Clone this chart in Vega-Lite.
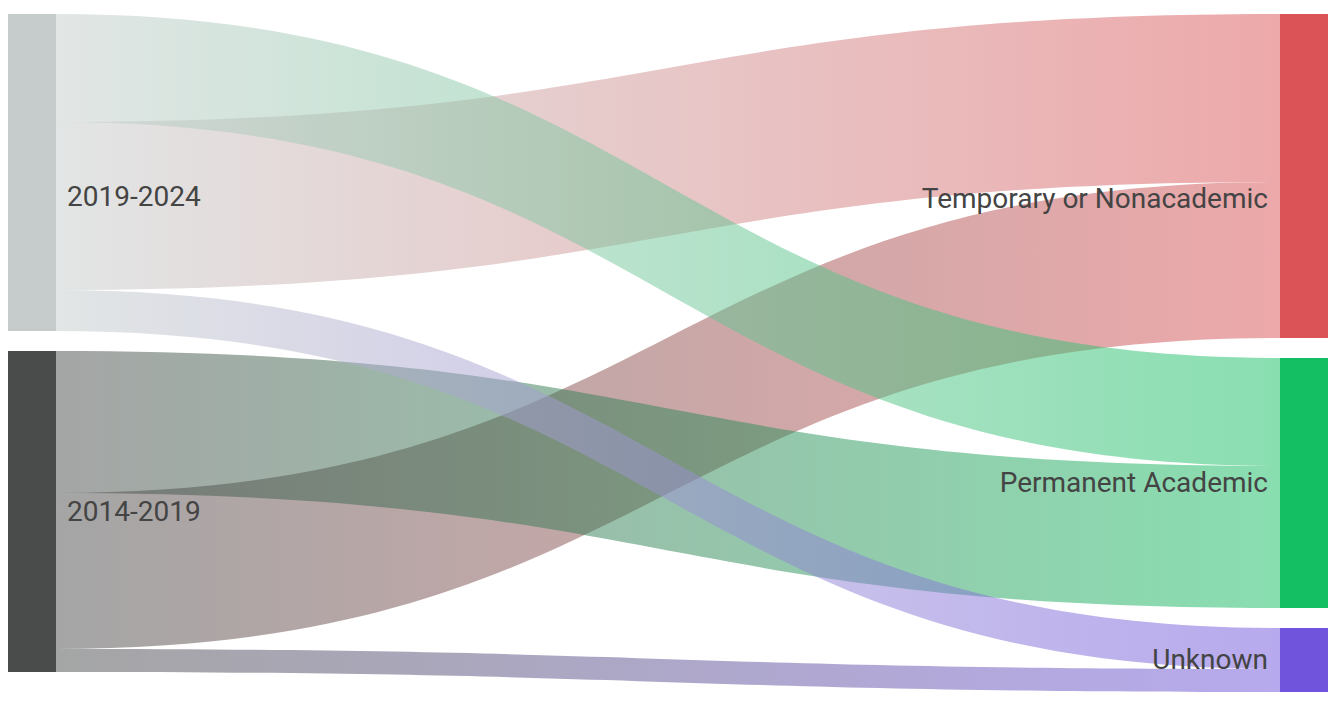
{
  "$schema": "https://vega.github.io/schema/vega-lite/v6.json",
  "width": 1340,
  "height": 702,
  "padding": 0,
  "autosize": {"type": "none"},
  "background": "white",
  "config": {"view": {"stroke": null}, "font": "Roboto", "scale": {"continuousPadding": 0}},
  "data": {
    "values": [
      {"source": "2019-2024", "target": "Permanent Academic", "value": 108, "source_order": 0, "target_order": 1},
      {"source": "2019-2024", "target": "Temporary or Nonacademic", "value": 168, "source_order": 0, "target_order": 0},
      {"source": "2019-2024", "target": "Unknown", "value": 41, "source_order": 0, "target_order": 2},
      {"source": "2014-2019", "target": "Permanent Academic", "value": 142, "source_order": 1, "target_order": 1},
      {"source": "2014-2019", "target": "Temporary or Nonacademic", "value": 156, "source_order": 1, "target_order": 0},
      {"source": "2014-2019", "target": "Unknown", "value": 23, "source_order": 1, "target_order": 2}
    ]
  },
  "transform": [
    {"window": [{"op": "row_number", "as": "idx"}]},
    {"window": [{"op": "sum", "field": "value", "as": "scum"}], "sort": [{"field": "idx"}], "frame": [null, 0]},
    {"window": [{"op": "sum", "field": "value", "as": "tcum"}], "sort": [{"field": "target_order"}, {"field": "source_order"}], "frame": [null, 0]},
    {"calculate": "datum.scum - datum.value + 20 * datum.source_order", "as": "ys"},
    {"calculate": "datum.tcum - datum.value + 20 * datum.target_order", "as": "yt"},
    {"calculate": "datum.ys + datum.value", "as": "ysb"},
    {"calculate": "datum.yt + datum.value", "as": "ytb"},
    {"calculate": "datum.yt", "as": "p0"},
    {"calculate": "datum.ys", "as": "p1"},
    {"calculate": "datum.yt", "as": "p2"},
    {"calculate": "datum.ys", "as": "p3"},
    {"fold": ["p0", "p1", "p2", "p3"], "as": ["pt", "top"]},
    {"calculate": "datum.pt == 'p0' ? -2 : datum.pt == 'p1' ? 0 : datum.pt == 'p2' ? 1 : 3", "as": "xpos"},
    {"calculate": "datum.top + datum.value", "as": "bot"}
  ],
  "layer": [
    {
      "transform": [{"filter": "datum.source == '2019-2024' && datum.target == 'Temporary or Nonacademic'"}],
      "mark": {"type": "area", "interpolate": "cardinal-open", "tension": 0, "fillOpacity": 0.5, "strokeWidth": 0,
        "fill": {"gradient": "linear", "x1": 0, "y1": 0, "x2": 1, "y2": 0, "stops": [{"offset": 0, "color": "#c5cccb"}, {"offset": 1, "color": "#db5356"}]}},
      "encoding": {
        "x": {"field": "xpos", "type": "quantitative", "scale": {"domain": [-0.045752, 1.04902], "nice": false, "zero": false, "padding": 0}, "axis": null},
        "y": {"field": "top", "type": "quantitative", "scale": {"domain": [-14, 688], "nice": false, "zero": false, "reverse": true, "padding": 0}, "axis": null},
        "y2": {"field": "bot"}
      }
    },
    {
      "transform": [{"filter": "datum.source == '2014-2019' && datum.target == 'Temporary or Nonacademic'"}],
      "mark": {"type": "area", "interpolate": "cardinal-open", "tension": 0, "fillOpacity": 0.5, "strokeWidth": 0,
        "fill": {"gradient": "linear", "x1": 0, "y1": 0, "x2": 1, "y2": 0, "stops": [{"offset": 0, "color": "#4a4c4b"}, {"offset": 1, "color": "#db5356"}]}},
      "encoding": {
        "x": {"field": "xpos", "type": "quantitative", "axis": null},
        "y": {"field": "top", "type": "quantitative", "axis": null},
        "y2": {"field": "bot"}
      }
    },
    {
      "transform": [{"filter": "datum.source == '2019-2024' && datum.target == 'Permanent Academic'"}],
      "mark": {"type": "area", "interpolate": "cardinal-open", "tension": 0, "fillOpacity": 0.5, "strokeWidth": 0,
        "fill": {"gradient": "linear", "x1": 0, "y1": 0, "x2": 1, "y2": 0, "stops": [{"offset": 0, "color": "#c5cccb"}, {"offset": 1, "color": "#14be62"}]}},
      "encoding": {
        "x": {"field": "xpos", "type": "quantitative", "axis": null},
        "y": {"field": "top", "type": "quantitative", "axis": null},
        "y2": {"field": "bot"}
      }
    },
    {
      "transform": [{"filter": "datum.source == '2014-2019' && datum.target == 'Permanent Academic'"}],
      "mark": {"type": "area", "interpolate": "cardinal-open", "tension": 0, "fillOpacity": 0.5, "strokeWidth": 0,
        "fill": {"gradient": "linear", "x1": 0, "y1": 0, "x2": 1, "y2": 0, "stops": [{"offset": 0, "color": "#4a4c4b"}, {"offset": 1, "color": "#14be62"}]}},
      "encoding": {
        "x": {"field": "xpos", "type": "quantitative", "axis": null},
        "y": {"field": "top", "type": "quantitative", "axis": null},
        "y2": {"field": "bot"}
      }
    },
    {
      "transform": [{"filter": "datum.source == '2019-2024' && datum.target == 'Unknown'"}],
      "mark": {"type": "area", "interpolate": "cardinal-open", "tension": 0, "fillOpacity": 0.5, "strokeWidth": 0,
        "fill": {"gradient": "linear", "x1": 0, "y1": 0, "x2": 1, "y2": 0, "stops": [{"offset": 0, "color": "#c5cccb"}, {"offset": 1, "color": "#7055dc"}]}},
      "encoding": {
        "x": {"field": "xpos", "type": "quantitative", "axis": null},
        "y": {"field": "top", "type": "quantitative", "axis": null},
        "y2": {"field": "bot"}
      }
    },
    {
      "transform": [{"filter": "datum.source == '2014-2019' && datum.target == 'Unknown'"}],
      "mark": {"type": "area", "interpolate": "cardinal-open", "tension": 0, "fillOpacity": 0.5, "strokeWidth": 0,
        "fill": {"gradient": "linear", "x1": 0, "y1": 0, "x2": 1, "y2": 0, "stops": [{"offset": 0, "color": "#4a4c4b"}, {"offset": 1, "color": "#7055dc"}]}},
      "encoding": {
        "x": {"field": "xpos", "type": "quantitative", "axis": null},
        "y": {"field": "top", "type": "quantitative", "axis": null},
        "y2": {"field": "bot"}
      }
    },
    {
      "transform": [{"aggregate": [{"op": "min", "field": "ys", "as": "n0"}, {"op": "max", "field": "ysb", "as": "n1"}], "groupby": ["source"]}],
      "mark": {"type": "bar", "width": 48, "xOffset": -24},
      "encoding": {
        "x": {"datum": 0, "type": "quantitative", "axis": null},
        "y": {"field": "n0", "type": "quantitative", "axis": null},
        "y2": {"field": "n1"},
        "color": {"field": "source", "type": "nominal", "legend": null,
          "scale": {"domain": ["2019-2024", "2014-2019", "Temporary or Nonacademic", "Permanent Academic", "Unknown"], "range": ["#c5cccb", "#4a4c4b", "#db5356", "#14be62", "#7055dc"]}}
      }
    },
    {
      "transform": [{"aggregate": [{"op": "min", "field": "yt", "as": "n0"}, {"op": "max", "field": "ytb", "as": "n1"}], "groupby": ["target"]}],
      "mark": {"type": "bar", "width": 48, "xOffset": 24},
      "encoding": {
        "x": {"datum": 1, "type": "quantitative", "axis": null},
        "y": {"field": "n0", "type": "quantitative", "axis": null},
        "y2": {"field": "n1"},
        "color": {"field": "target", "type": "nominal", "legend": null}
      }
    },
    {
      "transform": [
        {"aggregate": [{"op": "min", "field": "ys", "as": "n0"}, {"op": "max", "field": "ysb", "as": "n1"}], "groupby": ["source"]},
        {"filter": "datum.source == '2019-2024'"},
        {"calculate": "(datum.n0 + datum.n1) / 2", "as": "mid"}
      ],
      "mark": {"type": "text", "align": "left", "baseline": "middle", "dx": 11, "dy": 25, "fontSize": 28, "color": "#444444"},
      "encoding": {
        "x": {"datum": 0, "type": "quantitative"},
        "y": {"field": "mid", "type": "quantitative"},
        "text": {"field": "source"}
      }
    },
    {
      "transform": [
        {"aggregate": [{"op": "min", "field": "ys", "as": "n0"}, {"op": "max", "field": "ysb", "as": "n1"}], "groupby": ["source"]},
        {"filter": "datum.source != '2019-2024'"},
        {"calculate": "(datum.n0 + datum.n1) / 2", "as": "mid"}
      ],
      "mark": {"type": "text", "align": "left", "baseline": "middle", "dx": 11, "dy": 1, "fontSize": 28, "color": "#444444"},
      "encoding": {
        "x": {"datum": 0, "type": "quantitative"},
        "y": {"field": "mid", "type": "quantitative"},
        "text": {"field": "source"}
      }
    },
    {
      "transform": [
        {"aggregate": [{"op": "min", "field": "yt", "as": "n0"}, {"op": "max", "field": "ytb", "as": "n1"}], "groupby": ["target"]},
        {"filter": "datum.target == 'Temporary or Nonacademic'"},
        {"calculate": "(datum.n0 + datum.n1) / 2", "as": "mid"}
      ],
      "mark": {"type": "text", "align": "right", "baseline": "middle", "dx": -12, "dy": 24, "fontSize": 28, "color": "#444444"},
      "encoding": {
        "x": {"datum": 1, "type": "quantitative"},
        "y": {"field": "mid", "type": "quantitative"},
        "text": {"field": "target"}
      }
    },
    {
      "transform": [
        {"aggregate": [{"op": "min", "field": "yt", "as": "n0"}, {"op": "max", "field": "ytb", "as": "n1"}], "groupby": ["target"]},
        {"filter": "datum.target != 'Temporary or Nonacademic'"},
        {"calculate": "(datum.n0 + datum.n1) / 2", "as": "mid"}
      ],
      "mark": {"type": "text", "align": "right", "baseline": "middle", "dx": -12, "dy": 1, "fontSize": 28, "color": "#444444"},
      "encoding": {
        "x": {"datum": 1, "type": "quantitative"},
        "y": {"field": "mid", "type": "quantitative"},
        "text": {"field": "target"}
      }
    }
  ]
}
